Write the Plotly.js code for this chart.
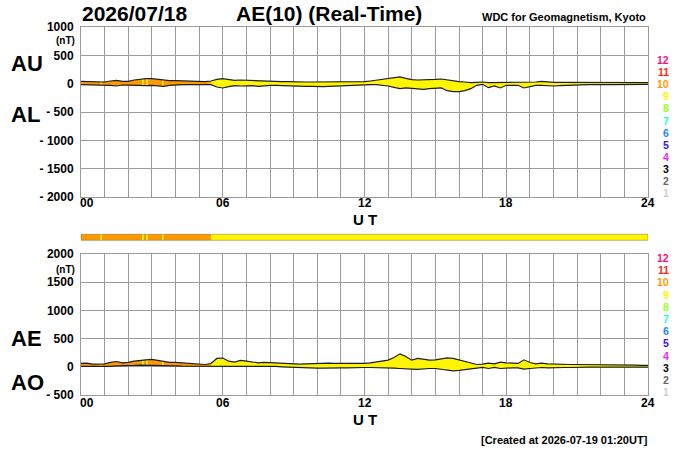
<!DOCTYPE html>
<html>
<head>
<meta charset="utf-8">
<script src="https://cdn.plot.ly/plotly-3.0.1.min.js"></script>
<style>
html,body{margin:0;padding:0;background:#fff;}
#chart{width:700px;height:450px;}
</style>
</head>
<body>
<div id="chart"></div>
<script>
// ---- data (nT, 15-minute samples from 00:00 to 24:00 UT) ----
const hours = Array.from({length: 97}, (_, i) => i * 0.25);

const AU = [41,41,29,29,29,47,59,41,41,65,82,88,88,76,59,53,53,47,41,41,41,35,47,76,
            88,76,59,65,59,53,47,47,47,41,35,35,29,29,29,29,29,29,29,29,29,29,29,35,
            35,47,59,71,88,100,118,94,71,65,65,71,76,82,65,47,35,29,18,24,29,18,18,24,
            24,24,29,24,24,29,41,29,24,24,24,24,24,24,24,24,24,18,18,18,18,18,18,18,18];
const AL = [-18,-18,-24,-24,-18,-29,-41,-24,-24,-29,-35,-35,-29,-35,-47,-29,-18,-18,-18,-18,-24,-24,-18,-59,
            -76,-53,-35,-41,-35,-35,-47,-35,-29,-29,-35,-35,-35,-41,-47,-47,-53,-53,-47,-41,-41,-35,-29,-24,
            -18,-18,-18,-29,-41,-65,-88,-76,-88,-100,-100,-88,-76,-76,-124,-141,-141,-124,-88,-29,-12,-71,-41,-76,
            -29,-29,-29,-76,-53,-29,-29,-41,-41,-35,-29,-29,-24,-24,-18,-18,-12,-18,-18,-18,-18,-12,-12,-12,-12];
const AE = [59,65,47,47,53,77,94,71,77,100,118,124,130,112,89,77,77,71,59,53,47,41,59,148,
            155,100,83,112,100,89,71,77,71,65,59,53,47,47,53,59,65,65,65,59,59,53,59,59,
            59,71,89,106,118,165,230,183,118,148,136,118,124,136,159,148,118,89,59,41,47,65,53,83,
            71,59,59,124,77,53,65,53,47,47,47,41,41,41,41,35,35,35,30,30,30,30,30,24,24];
const AO = [6,6,0,0,0,6,18,18,12,24,30,30,30,24,18,18,18,12,12,12,12,6,12,18,
            6,12,18,18,18,18,12,12,6,6,0,-6,-12,-18,-24,-24,-24,-24,-18,-18,-18,-18,-12,-12,
            -12,-12,-12,-18,-18,-24,-30,-30,-41,-47,-35,-30,-30,-41,-59,-71,-65,-53,-41,-18,-12,-30,-12,-30,
            -18,-18,-18,-41,-30,-18,-12,-18,-12,-12,-12,-12,-6,-6,-6,-6,-6,-6,-6,-6,-6,-6,-6,-6,-6];

// activity level (number of stations) segments, hours UT
const segStart = [0, 0.83, 0.89, 2.59, 2.65, 2.77, 2.83, 3.43, 3.49, 5.5];
const segEnd   = [0.83, 0.89, 2.59, 2.65, 2.77, 2.83, 3.43, 3.49, 5.5, 24];
const segLevel = [10, 9, 10, 9, 10, 9, 10, 9, 10, 9];

const levelNums = [12, 11, 10, 9, 8, 7, 6, 5, 4, 3, 2, 1];
const levelColors = {12:'#FF1080', 11:'#FF2A10', 10:'#FF9900', 9:'#FFF500', 8:'#99FF22',
                     7:'#22FFCC', 6:'#2288FF', 5:'#3311FF', 4:'#EE22FF', 3:'#000000', 2:'#666666', 1:'#CCCCCC'};

const hourTicks = Array.from({length: 25}, (_, i) => i);
const hourLabelTicks = [0, 6, 12, 18, 24];
const hourLabels = ['00', '06', '12', '18', '24'];
const topTickVals = [1000, 500, 0, -500, -1000, -1500, -2000];
const topTickText = ['1000', '500', '0', '- 500', '- 1000', '- 1500', '- 2000'];
const botTickVals = [2000, 1500, 1000, 500, 0, -500];
const botTickText = ['2000', '1500', '1000', '500', '0', '- 500'];

// ---- helpers ----
function interp(arr, t) {
  const f = t * 4, i = Math.floor(f);
  if (i >= arr.length - 1) return arr[arr.length - 1];
  const r = f - i;
  return arr[i] * (1 - r) + arr[i + 1] * r;
}
function band(upper, lower, t0, t1) {
  const ts = [t0].concat(hours.filter(h => h > t0 && h < t1), [t1]);
  const xs = ts.concat(ts.slice().reverse());
  const ys = ts.map(t => interp(upper, t)).concat(ts.slice().reverse().map(t => interp(lower, t)));
  return {xs, ys};
}

const traces = [];
function panel(upper, lower, xax, yax) {
  for (let k = 0; k < segStart.length; k++) {
    const b = band(upper, lower, segStart[k], segEnd[k]);
    traces.push({x: b.xs, y: b.ys, xaxis: xax, yaxis: yax, type: 'scatter', mode: 'lines',
      fill: 'toself', fillcolor: levelColors[segLevel[k]], line: {width: 0},
      hoverinfo: 'skip', showlegend: false});
  }
  [upper, lower].forEach(s => traces.push({x: hours, y: s, xaxis: xax, yaxis: yax, type: 'scatter',
    mode: 'lines', line: {color: '#1e1e1e', width: 1.2}, hoverinfo: 'skip', showlegend: false}));
}
panel(AU, AL, 'x', 'y');
panel(AE, AO, 'x2', 'y2');

const W = 700, H = 450;
const px = v => v / W, py = v => 1 - v / H;
const FONT = 'Liberation Sans, Arial, Helvetica, sans-serif';

const axisCommon = {
  showgrid: true, gridcolor: '#9a9a9a', gridwidth: 1, zeroline: false,
  showline: true, mirror: true, linecolor: '#9a9a9a', linewidth: 1,
  ticks: '', fixedrange: true
};

const layout = {
  width: W, height: H, margin: {l: 0, r: 0, t: 0, b: 0},
  paper_bgcolor: '#fff', plot_bgcolor: '#fff', showlegend: false,
  font: {family: FONT, color: '#000'},
  xaxis: Object.assign({}, axisCommon, {domain: [px(81), px(648)], range: [0, 24],
    tickvals: hourTicks, showticklabels: false, anchor: 'y'}),
  xaxis2: Object.assign({}, axisCommon, {domain: [px(81), px(648)], range: [0, 24],
    tickvals: hourTicks, showticklabels: false, anchor: 'y2'}),
  yaxis: Object.assign({}, axisCommon, {domain: [py(197), py(27)], range: [-2000, 1000],
    tickvals: topTickVals, ticktext: topTickText, anchor: 'x', ticklabelstandoff: 4,
    tickfont: {size: 12, weight: 'bold', family: FONT}}),
  yaxis2: Object.assign({}, axisCommon, {domain: [py(395), py(254)], range: [-500, 2000],
    tickvals: botTickVals, ticktext: botTickText, anchor: 'x2', ticklabelstandoff: 4,
    tickfont: {size: 12, weight: 'bold', family: FONT}}),
  shapes: [], annotations: []
};

// activity bar
for (let k = 0; k < segStart.length; k++) {
  layout.shapes.push({type: 'rect', xref: 'x', yref: 'paper', x0: segStart[k], x1: segEnd[k],
    y0: py(240.3), y1: py(234.3), fillcolor: levelColors[segLevel[k]], line: {width: 0}, layer: 'above'});
}
layout.shapes.push({type: 'rect', xref: 'x', yref: 'paper', x0: 0, x1: 24,
  y0: py(240.3), y1: py(234.3), fillcolor: 'rgba(0,0,0,0)', line: {width: 1, color: 'rgba(90,60,0,0.35)'}, layer: 'above'});

function ann(text, x, y, size, opts) {
  layout.annotations.push(Object.assign({text, x: px(x), y: py(y), xref: 'paper', yref: 'paper',
    showarrow: false, xanchor: 'left', yanchor: 'middle', borderpad: 0,
    font: {size, family: FONT, color: '#000', weight: 'bold'}}, opts || {}));
}
ann('2026/07/18', 81, 14, 21);
ann('AE(10) (Real-Time)', 235, 14, 21);
ann('WDC for Geomagnetism, Kyoto', 647, 17, 11, {xanchor: 'right'});
ann('AU', 10, 63, 22);
ann('AL', 10, 114, 22);
ann('AE', 10, 338, 22);
ann('AO', 10, 382, 22);
ann('(nT)', 76, 40, 10, {xanchor: 'right'});
ann('(nT)', 76, 269, 10, {xanchor: 'right'});
ann('U T', 365, 219, 15, {xanchor: 'center'});
ann('U T', 365, 419, 15, {xanchor: 'center'});
ann('[Created at 2026-07-19 01:20UT]', 649, 440, 11, {xanchor: 'right'});

// hour tick labels (placed on the x axes' scale)
[['x', 203], ['x2', 403]].forEach(([xr, yy]) => {
  hourLabelTicks.forEach((h, i) => {
    layout.annotations.push({text: hourLabels[i], x: h, xref: xr, y: py(yy), yref: 'paper',
      showarrow: false, xanchor: i === 0 ? 'left' : 'center', xshift: i === 0 ? -2 : 0,
      yanchor: 'middle', borderpad: 0, font: {size: 12, family: FONT, color: '#000', weight: 'bold'}});
  });
});

// station-count colour key
levelNums.forEach((n, i) => {
  const f = {size: 10.5, family: FONT, color: levelColors[n], weight: 'bold'};
  ann(String(n), 670, 60 + i * 12.1, 10.5, {xanchor: 'right', font: f});
  ann(String(n), 670, 258 + i * 12.2, 10.5, {xanchor: 'right', font: f});
});

Plotly.newPlot('chart', traces, layout, {staticPlot: true, displayModeBar: false});
</script>
</body>
</html>
